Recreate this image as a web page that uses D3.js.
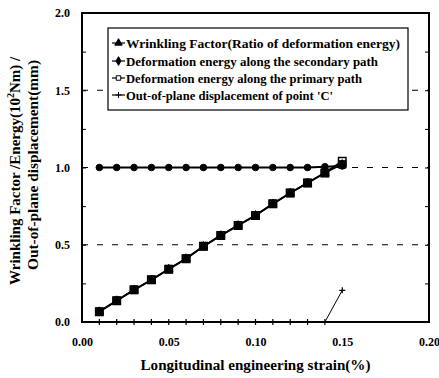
<!DOCTYPE html>
<html>
<head>
<meta charset="utf-8">
<script src="https://cdn.jsdelivr.net/npm/d3@7"></script>
<style>
  body { margin: 0; background: #fff; }
  text { font-family: "Liberation Serif", "Times New Roman", serif; font-weight: bold; fill: #000; }
</style>
</head>
<body>
<svg width="439" height="378"></svg>
<script>
// strain values (%)
var strain = [0.01, 0.02, 0.03, 0.04, 0.05, 0.06, 0.07, 0.08, 0.09, 0.10, 0.11, 0.12, 0.13, 0.14, 0.15];
var wrinkling = [0.067, 0.138, 0.208, 0.273, 0.342, 0.41, 0.49, 0.56, 0.625, 0.69, 0.765, 0.835, 0.9, 0.965, 1.02];
var secondary = [1.0, 1.0, 1.0, 1.0, 1.0, 1.0, 1.0, 1.0, 1.0, 1.0, 1.0, 1.0, 1.0, 1.005, 1.01];
var primary = [0.067, 0.138, 0.208, 0.273, 0.342, 0.41, 0.49, 0.56, 0.625, 0.69, 0.765, 0.835, 0.9, 0.965, 1.04];
var displacement = [0, 0, 0, 0, 0, 0, 0, 0, 0, 0, 0, 0, 0, 0, 0.205];

var xTicks = [0.00, 0.05, 0.10, 0.15, 0.20];
var yTicks = [0.0, 0.5, 1.0, 1.5, 2.0];
var gridValues = [0.5, 1.0, 1.5];
var legendLabels = [
  "Wrinkling Factor(Ratio of deformation energy)",
  "Deformation energy along the secondary path",
  "Deformation energy along the primary path",
  "Out-of-plane displacement of point 'C'"
];

var svg = d3.select("svg"),
    margin = {top: 13, right: 10, bottom: 56, left: 82},
    width = +svg.attr("width") - margin.left - margin.right,
    height = +svg.attr("height") - margin.top - margin.bottom;

var x = d3.scaleLinear().domain([0, 0.2]).range([0, width]);
var y = d3.scaleLinear().domain([0, 2]).range([height, 0]);

var g = svg.append("g").attr("transform", "translate(" + margin.left + "," + margin.top + ")");

// dashed grid lines
g.selectAll(".grid")
  .data(gridValues)
  .enter().append("line")
    .attr("x1", 0).attr("x2", width)
    .attr("y1", function(d) { return y(d); })
    .attr("y2", function(d) { return y(d); })
    .attr("stroke", "#000")
    .attr("stroke-width", 1.2)
    .attr("stroke-dasharray", "6,9");

// axes - ticks point inward
var yMinor = d3.range(0, 2.01, 0.25);
g.append("g")
  .call(d3.axisLeft(y).tickValues(yMinor).tickSize(-4).tickFormat(""))
  .call(function(s) { s.select(".domain").remove(); });
g.append("g")
  .attr("transform", "translate(" + width + ",0)")
  .call(d3.axisRight(y).tickValues(yMinor).tickSize(-4).tickFormat(""))
  .call(function(s) { s.select(".domain").remove(); });

g.append("g")
  .attr("transform", "translate(0," + height + ")")
  .call(d3.axisBottom(x).tickValues(xTicks).tickSize(0).tickPadding(15).tickFormat(d3.format(".2f")))
  .call(function(s) {
    s.select(".domain").remove();
    s.selectAll("text").style("font-size", "12px").style("font-family", null);
  });

g.append("g")
  .call(d3.axisLeft(y).tickValues(yTicks).tickSize(0).tickPadding(12).tickFormat(d3.format(".1f")))
  .call(function(s) {
    s.select(".domain").remove();
    s.selectAll("text").style("font-size", "12px").style("font-family", null);
  });

// frame
g.append("rect")
  .attr("width", width).attr("height", height)
  .attr("fill", "none").attr("stroke", "#000").attr("stroke-width", 2);

var line = function(vals) {
  return d3.line()
    .x(function(d, i) { return x(strain[i]); })
    .y(function(d) { return y(d); })(vals);
};

// lines
g.append("path").attr("d", line(secondary)).attr("fill", "none").attr("stroke", "#000").attr("stroke-width", 2);
g.append("path").attr("d", line(primary)).attr("fill", "none").attr("stroke", "#000").attr("stroke-width", 2);
g.append("path").attr("d", line(wrinkling)).attr("fill", "none").attr("stroke", "#000").attr("stroke-width", 1.5);
g.append("path").attr("d", line(displacement)).attr("fill", "none").attr("stroke", "#000").attr("stroke-width", 1);

var sym = {
  square: d3.symbol().type(d3.symbolSquare).size(56)(),
  dot: d3.symbol().type(d3.symbolCircle).size(34)(),
  triangle: d3.symbol().type(d3.symbolTriangle).size(30)(),
  plus: "M-3,0H3M0,-3V3"
};

function markers(vals, path, fill, stroke, sw) {
  g.append("g").selectAll("path")
    .data(vals)
    .enter().append("path")
      .attr("transform", function(d, i) { return "translate(" + x(strain[i]) + "," + y(d) + ")"; })
      .attr("d", path)
      .attr("fill", fill)
      .attr("stroke", stroke)
      .attr("stroke-width", sw);
}

markers(secondary, sym.dot, "#000", "#000", 1);
markers(primary, sym.square, "#fff", "#000", 1.5);
markers(wrinkling, sym.square, "#111", "#000", 1);
markers(wrinkling, sym.triangle, "#000", "#000", 1);
markers(displacement, sym.plus, "none", "#000", 1.2);

// legend
var legend = svg.append("g").attr("transform", "translate(108,28)");
legend.append("rect")
  .attr("width", 300).attr("height", 82)
  .attr("fill", "#fff").attr("stroke", "#000").attr("stroke-width", 1.2);

var rowY = [15, 33, 50, 67];
var legSyms = [
  {path: d3.symbol().type(d3.symbolTriangle).size(24)(), fill: "#000"},
  {path: d3.symbol().type(d3.symbolDiamond).size(22)(), fill: "#000"},
  {path: d3.symbol().type(d3.symbolSquare).size(20)(), fill: "#fff"},
  {path: sym.plus, fill: "none"}
];
var legendWidths = [274, 252, 236, 207];
var rows = legend.selectAll(".row")
  .data(legendLabels)
  .enter().append("g")
    .attr("transform", function(d, i) { return "translate(0," + rowY[i] + ")"; });
rows.append("line")
  .attr("x1", 4).attr("x2", 17).attr("y1", 0).attr("y2", 0)
  .attr("stroke", "#000").attr("stroke-width", 1.2);
rows.append("path")
  .attr("transform", "translate(10.5,0)")
  .attr("d", function(d, i) { return legSyms[i].path; })
  .attr("fill", function(d, i) { return legSyms[i].fill; })
  .attr("stroke", "#000")
  .attr("stroke-width", 1);
rows.append("text")
  .attr("x", 18).attr("y", 4.5)
  .attr("textLength", function(d, i) { return legendWidths[i]; })
  .attr("lengthAdjust", "spacingAndGlyphs")
  .style("font-size", "12.5px")
  .text(function(d) { return d; });

// axis titles
svg.append("text")
  .attr("x", margin.left + width / 2).attr("y", 370)
  .attr("text-anchor", "middle")
  .attr("textLength", 230)
  .attr("lengthAdjust", "spacingAndGlyphs")
  .style("font-size", "15px")
  .text("Longitudinal engineering strain(%)");

var yt = svg.append("text")
  .attr("transform", "translate(20,285) rotate(-90)")
  .attr("text-anchor", "start")
  .style("font-size", "15px");
yt.append("tspan").text("Wrinkling Factor /Energy(10");
yt.append("tspan").attr("dy", -6).style("font-size", "10px").text("2");
yt.append("tspan").attr("dy", 6).text("Nm) /");
svg.append("text")
  .attr("transform", "translate(38,270) rotate(-90)")
  .attr("text-anchor", "start")
  .attr("textLength", 210)
  .attr("lengthAdjust", "spacingAndGlyphs")
  .style("font-size", "15px")
  .text("Out-of-plane displacement(mm)");
</script>
</body>
</html>
